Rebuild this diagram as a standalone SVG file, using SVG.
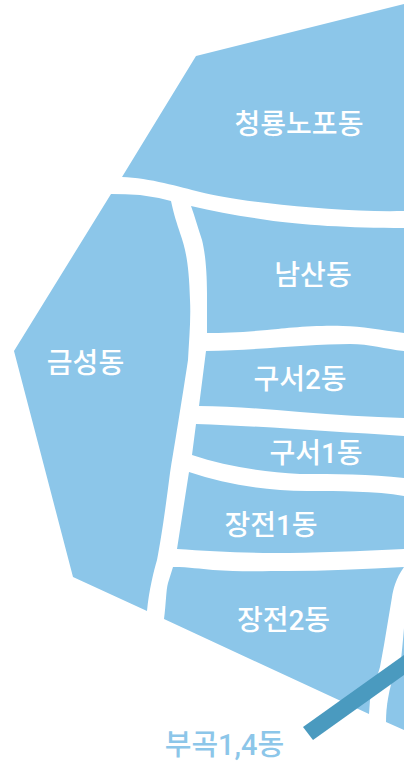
<svg xmlns="http://www.w3.org/2000/svg" width="404" height="761" viewBox="0 0 404 761">
<style>
.a{fill:#8cc6e9}
.t{font-family:"Roboto","Noto Sans CJK KR","Noto Sans",sans-serif;font-size:28px;font-weight:500;fill:#fff;text-anchor:middle}
</style>
<rect width="404" height="761" fill="#fff"/>
<g id="n1"><path class="a" d="M122 177L196 56L404 4V211C360 212 310 208 267 203C240 200 215 196 200 192C180 187 150 178 122 177Z"/><text class="t" x="299" y="134">청룡노포동</text></g>
<g id="n2"><path class="a" d="M191 206C215 212 240 216 267 220C300 225 350 228 404 228V333C380 330 362 326 343 326C310 325 280 329 267 330C245 332 225 333 207 333V293C207 270 205 252 202 240C198 228 195 217 191 206Z"/><text class="t" x="313" y="285">남산동</text></g>
<g id="n3"><path class="a" d="M111 194Q125 194 140 195Q156 197 171 201C174 215 177 224 180 233C186 250 189 265 190 300C191 320 189 340 188 360C185 380 178 425 170 473C166 505 161 540 157 560C154 570 149 590 147 611L73 577L14 351Z"/><text class="t" x="85.500" y="373">금성동</text></g>
<g id="n4"><path class="a" d="M206 351C260 350 310 344 350 344C370 344 385 349 404 351V418C370 417 335 415 300 412C265 409 230 406 199 406Z"/><text class="t" x="300" y="389">구서2동</text></g>
<g id="n5"><path class="a" d="M196 424C260 426 335 432 404 436V478C370 474 335 474 300 474C262 472 225 466 192 455Z"/><text class="t" x="316" y="463">구서1동</text></g>
<g id="n6"><path class="a" d="M189 472C225 484 265 491 307 491C340 491 375 491 404 496V549C360 551 315 553 273 553C240 553 205 551 177 549Z"/><text class="t" x="271" y="535">장전1동</text></g>
<g id="n7"><path class="a" d="M173 567C190 567 200 569 213 570C240 572 265 571 287 571C325 571 365 569 404 567C396 578 393 590 392 597L384 645L380 667L370 700L369 714L164 619C166 605 166 590 168 583Z"/><text class="t" x="283.500" y="630">장전2동</text></g>
<g id="n8"><path class="a" d="M404 670L395 670C389 690 386 705 386 722L404 730Z"/></g>
<g id="n9"><path class="a" d="M404 628C403 640 402 650 401 660L404 660Z"/></g>
<g id="connectors"><path d="M303 727L313 740L404 675V655Z" fill="#4a9abf"/></g>
<g id="n10"><text class="t" x="224.500" y="755" style="fill:#8cc6e9;font-size:29px">부곡1,4동</text></g>
</svg>
